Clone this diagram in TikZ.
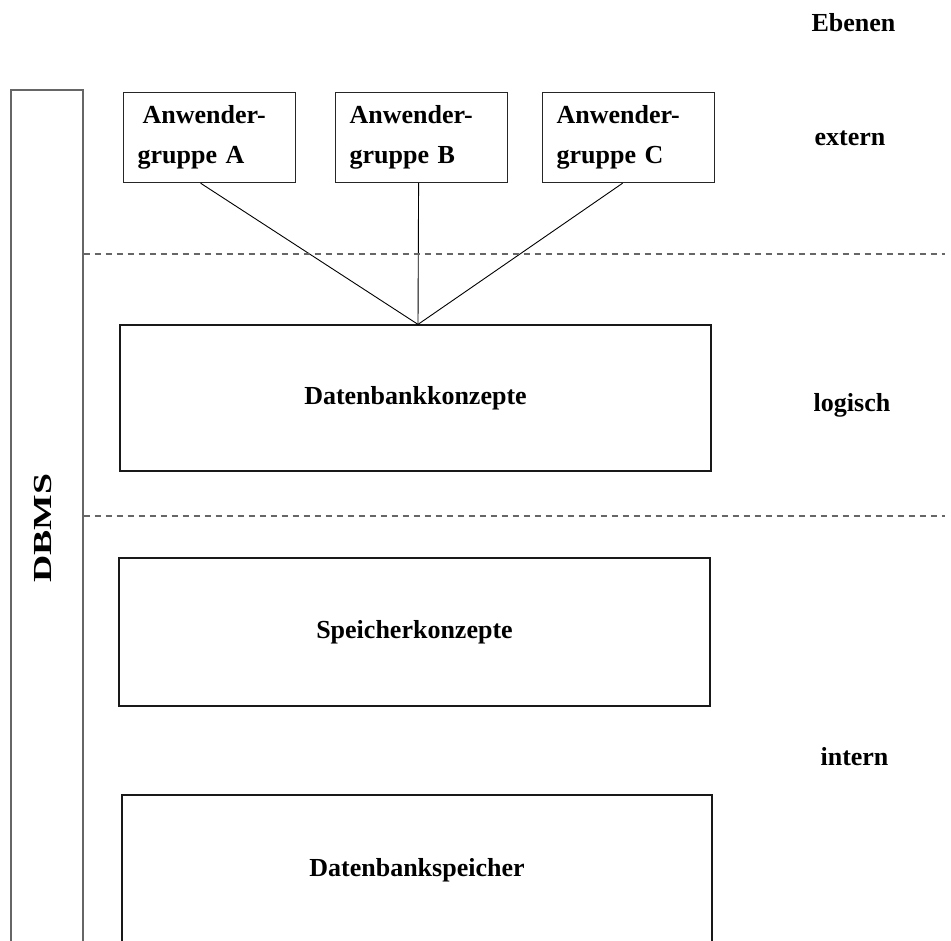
\documentclass[tikz,border=0pt]{standalone}
\usepackage{fontspec}
\setmainfont{Liberation Serif}
\usepackage{tikz}
\usetikzlibrary{positioning}
\begin{document}
\begin{tikzpicture}[x=1pt,y=-1pt,inner sep=0pt,
  gruppe/.style={draw=black!85,line width=1.2pt,anchor=north west,text width=144pt,align=left,
    inner xsep=14pt,inner ysep=13pt,minimum height=90pt,font=\fontsize{26}{40}\selectfont\bfseries},
  konzept/.style={draw=black!90,line width=1.2pt,minimum width=591pt,font=\fontsize{26}{30}\selectfont\bfseries},
  ebene/.style={anchor=base,font=\fontsize{26}{30}\selectfont\bfseries},
  trenn/.style={draw=black!60,line width=1.2pt,dash pattern=on 6pt off 5pt}]
\useasboundingbox (0,0) rectangle (951,941);
\clip (0,0) rectangle (951,941);
\node [draw=black!60,line width=1.2pt,minimum width=72pt,minimum height=876pt] (bar) at (47,528) {};
\node [rotate=90,font=\fontsize{26}{30}\selectfont\bfseries] (dbms) at (43,528) {\scalebox{1.45}[1]{DBMS}};
\node [gruppe] (A) at (123,92) {\hspace*{5pt}Anwender-\\gruppe A};
\node [gruppe] (B) at (335,92) {Anwender-\\gruppe B};
\node [gruppe] (C) at (542,92) {Anwender-\\gruppe C};
\node [konzept,minimum height=146pt] (dbk) at (415.5,398) {Datenbankkonzepte};
\node [konzept,minimum height=148pt] (spk) at (414.5,632) {Speicherkonzepte};
\node [konzept,minimum width=590pt,minimum height=150pt] (dbs) at (417,870) {Datenbankspeicher};
\draw [line width=.9pt] ([xshift=-9pt]A.south) -- ([xshift=2.5pt]dbk.north);
\draw [line width=.9pt] ([xshift=-3pt]B.south) -- ([xshift=2.5pt]dbk.north);
\draw [line width=.9pt] ([xshift=-6pt]C.south) -- ([xshift=2.5pt]dbk.north);
\coordinate (e1) at (945,254);
\coordinate (e2) at (945,516);
\draw [trenn] (bar.east |- e1) -- (e1);
\draw [trenn] (bar.east |- e2) -- (e2);
\node [ebene] (ebenen) at (853.5,32) {Ebenen};
\node [ebene] (extern) at (850,146) {extern};
\node [ebene] (logisch) at (852,412) {logisch};
\node [ebene] (intern) at (854.5,765) {intern};
\end{tikzpicture}
\end{document}
